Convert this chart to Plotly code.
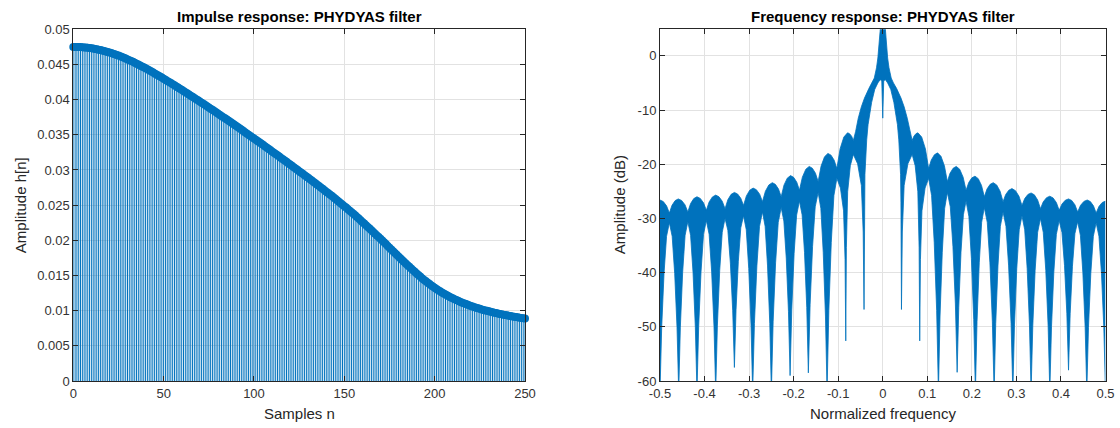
import plotly.graph_objects as go

# ---------------- Impulse response h[n], n = 0 .. 250 ----------------
samples = list(range(251))
h = [
    0.04750,
    0.04750, 0.04749, 0.04748, 0.04747, 0.04745, 0.04743, 0.04740, 0.04737, 0.04734, 0.04730,
    0.04726, 0.04721, 0.04716, 0.04711, 0.04705, 0.04699, 0.04692, 0.04685, 0.04678, 0.04670,
    0.04662, 0.04653, 0.04644, 0.04635, 0.04626, 0.04616, 0.04605, 0.04595, 0.04584, 0.04572,
    0.04561, 0.04549, 0.04537, 0.04524, 0.04512, 0.04499, 0.04486, 0.04472, 0.04459, 0.04445,
    0.04431, 0.04417, 0.04402, 0.04388, 0.04373, 0.04358, 0.04343, 0.04328, 0.04313, 0.04297,
    0.04282, 0.04266, 0.04251, 0.04235, 0.04219, 0.04203, 0.04187, 0.04171, 0.04155, 0.04139,
    0.04123, 0.04106, 0.04090, 0.04074, 0.04057, 0.04041, 0.04024, 0.04007, 0.03991, 0.03974,
    0.03957, 0.03940, 0.03923, 0.03906, 0.03889, 0.03872, 0.03855, 0.03838, 0.03821, 0.03803,
    0.03786, 0.03769, 0.03751, 0.03734, 0.03716, 0.03699, 0.03681, 0.03664, 0.03646, 0.03628,
    0.03610, 0.03592, 0.03574, 0.03556, 0.03538, 0.03520, 0.03502, 0.03484, 0.03466, 0.03448,
    0.03430, 0.03412, 0.03393, 0.03375, 0.03357, 0.03338, 0.03320, 0.03301, 0.03283, 0.03264,
    0.03246, 0.03227, 0.03209, 0.03190, 0.03172, 0.03153, 0.03134, 0.03116, 0.03097, 0.03078,
    0.03059, 0.03040, 0.03021, 0.03002, 0.02983, 0.02964, 0.02945, 0.02926, 0.02907, 0.02888,
    0.02869, 0.02849, 0.02830, 0.02811, 0.02791, 0.02771, 0.02752, 0.02732, 0.02712, 0.02692,
    0.02672, 0.02652, 0.02632, 0.02611, 0.02590, 0.02570, 0.02549, 0.02528, 0.02507, 0.02486,
    0.02465, 0.02443, 0.02421, 0.02399, 0.02377, 0.02355, 0.02332, 0.02309, 0.02286, 0.02262,
    0.02239, 0.02215, 0.02191, 0.02167, 0.02143, 0.02119, 0.02095, 0.02070, 0.02046, 0.02021,
    0.01996, 0.01971, 0.01946, 0.01921, 0.01896, 0.01871, 0.01846, 0.01821, 0.01796, 0.01771,
    0.01746, 0.01721, 0.01696, 0.01672, 0.01647, 0.01623, 0.01600, 0.01576, 0.01552, 0.01529,
    0.01506, 0.01484, 0.01462, 0.01441, 0.01420, 0.01400, 0.01381, 0.01362, 0.01343, 0.01325,
    0.01308, 0.01291, 0.01275, 0.01259, 0.01244, 0.01229, 0.01215, 0.01201, 0.01188, 0.01175,
    0.01163, 0.01151, 0.01140, 0.01128, 0.01117, 0.01107, 0.01097, 0.01087, 0.01077, 0.01068,
    0.01059, 0.01050, 0.01042, 0.01034, 0.01026, 0.01018, 0.01011, 0.01004, 0.00997, 0.00990,
    0.00984, 0.00978, 0.00972, 0.00966, 0.00960, 0.00954, 0.00949, 0.00943, 0.00938, 0.00933,
    0.00928, 0.00923, 0.00918, 0.00914, 0.00909, 0.00905, 0.00900, 0.00896, 0.00892, 0.00888,
]

# ---------------- Frequency response |H(f)| in dB ----------------
# Upper envelope: side-lobe maxima and the V-notches between neighbouring lobes
sidelobe_freq = [-0.500, -0.459, -0.417, -0.375, -0.333, -0.291, -0.248, -0.207, -0.165, -0.123, -0.079,
                 0.079, 0.123, 0.165, 0.207, 0.248, 0.290, 0.333, 0.375, 0.417, 0.459, 0.500]
sidelobe_db = [-26.6, -26.4, -26.0, -25.7, -25.2, -24.4, -23.4, -22.1, -20.4, -18.0, -14.2,
               -14.2, -17.9, -20.4, -22.2, -23.4, -24.5, -25.3, -25.9, -26.4, -26.6, -26.8]
notch_freq = [-0.479, -0.4375, -0.396, -0.354, -0.3125, -0.270, -0.228, -0.187, -0.145, -0.103, -0.066,
              0.066, 0.103, 0.145, 0.187, 0.228, 0.270, 0.3125, 0.354, 0.396, 0.4375, 0.479]
notch_db = [-29.0, -28.8, -28.5, -28.2, -27.6, -26.9, -26.0, -24.8, -23.2, -20.8, -15.6,
            -15.6, -20.8, -23.2, -24.8, -26.0, -26.9, -27.6, -28.2, -28.5, -28.8, -29.0]
# Lower envelope: level under each notch, and the nulls between them
window_db = [-30.8, -30.6, -30.4, -30.0, -29.5, -28.8, -28.0, -26.8, -25.2, -22.6, -18.2,
             -18.2, -22.6, -25.2, -26.8, -28.0, -28.8, -29.5, -30.0, -30.4, -30.6, -30.8]
null_freq = [-0.500, -0.458, -0.417, -0.375, -0.333, -0.292, -0.250, -0.208, -0.167, -0.125, -0.083, -0.042,
             0.042, 0.083, 0.125, 0.167, 0.208, 0.250, 0.292, 0.333, 0.375, 0.417, 0.458, 0.500]
null_db = [-62.0, -62.0, -62.0, -62.0, -57.5, -62.0, -62.0, -59.0, -58.5, -62.0, -52.6, -46.8,
           -46.8, -52.6, -62.0, -58.4, -62.0, -62.0, -62.0, -62.0, -62.0, -58.0, -62.0, -62.0]
# Main lobe around f = 0 (outer and inner edges)
main_top_freq = [-0.061, -0.055, -0.048, -0.041, -0.031, -0.024, -0.019, -0.014, -0.011, -0.006, -0.002, 0.0,
                 0.002, 0.006, 0.011, 0.014, 0.019, 0.024, 0.031, 0.041, 0.048, 0.055, 0.061]
main_top_db = [-14.0, -11.5, -9.4, -7.8, -6.0, -5.0, -4.1, -2.2, -0.4, 4.5, 9.0, 10.0,
               9.0, 4.5, -0.4, -2.2, -4.1, -5.0, -6.0, -7.8, -9.4, -11.5, -14.0]
main_bot_freq = [-0.0415, -0.0408, -0.0400, -0.036, -0.033, -0.025, -0.018, -0.011, -0.006, -0.0022, 0.0,
                 0.0022, 0.006, 0.011, 0.018, 0.025, 0.033, 0.036, 0.0400, 0.0408, 0.0415]
main_bot_db = [-36.0, -27.0, -21.9, -15.5, -12.7, -8.6, -6.2, -5.0, -4.4, -4.6, -11.5,
               -4.6, -4.4, -5.0, -6.2, -8.6, -12.7, -15.5, -21.9, -27.0, -36.0]

# ---------------- Tick labels ----------------
imp_xticks = [0, 50, 100, 150, 200, 250]
imp_yticks = [0, 0.005, 0.01, 0.015, 0.02, 0.025, 0.03, 0.035, 0.04, 0.045, 0.05]
imp_yticklabels = ["0", "0.005", "0.01", "0.015", "0.02", "0.025", "0.03", "0.035", "0.04", "0.045", "0.05"]
freq_xticks = [-0.5, -0.4, -0.3, -0.2, -0.1, 0, 0.1, 0.2, 0.3, 0.4, 0.5]
freq_xticklabels = ["-0.5", "-0.4", "-0.3", "-0.2", "-0.1", "0", "0.1", "0.2", "0.3", "0.4", "0.5"]
freq_yticks = [-60, -50, -40, -30, -20, -10, 0]
freq_yticklabels = ["-60", "-50", "-40", "-30", "-20", "-10", "0"]

# ---------------- Styling ----------------
BLUE = "#0072BD"
AXIS = "#262626"
GRID = "#e2e2e2"
FONT = "Liberation Sans, Arial, Helvetica, sans-serif"

# Outline shape of a lobe between its maximum and the adjacent notch:
# (fraction of the way from the maximum, fraction of the level drop)
ARCH_SHAPE = [(0.35, 0.12), (0.7, 0.45)]
# Outline of a null between the tip and the neighbouring window level:
# (fraction of the way from the tip, fraction of the depth still remaining)
NULL_SHAPE_OUTER = [(0.18, 0.62), (0.43, 0.30), (0.7, 0.08)]
NULL_SHAPE_INNER = [(0.08, 0.50), (0.25, 0.20), (0.6, 0.06)]


def arch_edge(peak, notch):
    (pf, pd), (nf, nd) = peak, notch
    return [(pf + t * (nf - pf), pd - u * (pd - nd)) for t, u in ARCH_SHAPE]


def null_edge(null, window):
    (sf, sd), (wf, wd) = null, window
    shape = NULL_SHAPE_INNER if abs(sf) < 0.1 else NULL_SHAPE_OUTER
    return [(sf + t * (wf - sf), wd - r * (wd - sd)) for t, r in shape]


def chain(points, edge):
    # points alternate between "anchor" extremes (kind 0) and the other kind (1)
    out = [points[0][1]]
    for (ka, a), (kb, b) in zip(points, points[1:]):
        out += edge(a, b) if ka == 0 else edge(b, a)[::-1]
        out.append(b)
    return out


peaks = list(zip(sidelobe_freq, sidelobe_db))
notches = list(zip(notch_freq, notch_db))
windows = list(zip(notch_freq, window_db))
nulls = list(zip(null_freq, null_db))

top_left = []
for p, n in zip(peaks[:11], notches[:11]):
    top_left += [(0, p), (1, n)]
top_right = []
for n, p in zip(notches[11:], peaks[11:]):
    top_right += [(1, n), (0, p)]
upper = chain(top_left, arch_edge) + list(zip(main_top_freq, main_top_db)) + chain(top_right, arch_edge)

bot_left = []
for i in range(12):
    bot_left.append((0, nulls[i]))
    if i < 11:
        bot_left.append((1, windows[i]))
bot_right = []
for i in range(12):
    bot_right.append((0, nulls[12 + i]))
    if i < 11:
        bot_right.append((1, windows[11 + i]))
lower = chain(bot_left, null_edge) + list(zip(main_bot_freq, main_bot_db)) + chain(bot_right, null_edge)

# Stem lines of the impulse response
stem_x, stem_y = [], []
for n, v in zip(samples, h):
    stem_x += [n, n, None]
    stem_y += [0, v, None]

fig = go.Figure()
fig.add_trace(go.Scatter(x=stem_x, y=stem_y, mode="lines",
                         line=dict(color=BLUE, width=1.0), xaxis="x", yaxis="y",
                         hoverinfo="skip"))
fig.add_trace(go.Scatter(x=samples, y=h, mode="markers",
                         marker=dict(size=8, color=BLUE, line=dict(width=0)),
                         cliponaxis=False, xaxis="x", yaxis="y"))
fig.add_trace(go.Scatter(x=[p[0] for p in lower], y=[p[1] for p in lower], mode="lines",
                         line=dict(color=BLUE, width=0.8), xaxis="x2", yaxis="y2"))
fig.add_trace(go.Scatter(x=[p[0] for p in upper], y=[p[1] for p in upper], mode="lines",
                         line=dict(color=BLUE, width=0.8), fill="tonexty", fillcolor=BLUE,
                         xaxis="x2", yaxis="y2"))

axis_style = dict(showline=True, linecolor=AXIS, linewidth=1, mirror="ticks",
                  ticks="inside", ticklen=5, tickwidth=1, tickcolor=AXIS,
                  showgrid=True, gridcolor=GRID, gridwidth=1, zeroline=False,
                  automargin=False,
                  tickfont=dict(family=FONT, size=13, color="#333333"))

Y_DOM = [47 / 428, 1 - 29.3 / 428]
L_DOM = [73.3 / 1120, 525 / 1120]
R_DOM = [660 / 1120, 1105.5 / 1120]

fig.update_layout(
    width=1120, height=428,
    margin=dict(l=0, r=0, t=0, b=0, pad=0),
    paper_bgcolor="white", plot_bgcolor="white",
    showlegend=False,
    font=dict(family=FONT, size=13, color=AXIS),
    xaxis=dict(domain=L_DOM, range=[0, 250], tickvals=imp_xticks, anchor="y", **axis_style),
    yaxis=dict(domain=Y_DOM, range=[0, 0.05], tickvals=imp_yticks, ticktext=imp_yticklabels,
               anchor="x", **axis_style),
    xaxis2=dict(domain=R_DOM, range=[-0.5, 0.5], tickvals=freq_xticks, ticktext=freq_xticklabels,
                anchor="y2", **axis_style),
    yaxis2=dict(domain=Y_DOM, range=[-60, 4.9], tickvals=freq_yticks, ticktext=freq_yticklabels,
                anchor="x2", **axis_style),
)

l_mid = (L_DOM[0] + L_DOM[1]) / 2
r_mid = (R_DOM[0] + R_DOM[1]) / 2
y_mid = (Y_DOM[0] + Y_DOM[1]) / 2
texts = [
    dict(text="<b>Impulse response: PHYDYAS filter</b>", x=l_mid, y=1 - 16 / 428, size=15, color="#000000"),
    dict(text="<b>Frequency response: PHYDYAS filter</b>", x=r_mid, y=1 - 16 / 428, size=15, color="#000000"),
    dict(text="Samples n", x=l_mid, y=1 - 413 / 428, size=15, color=AXIS),
    dict(text="Normalized frequency", x=r_mid, y=1 - 413 / 428, size=15, color=AXIS),
]
for t in texts:
    fig.add_annotation(text=t["text"], x=t["x"], y=t["y"], xref="paper", yref="paper",
                       xanchor="center", yanchor="middle", showarrow=False,
                       font=dict(family=FONT, size=t["size"], color=t["color"]))
for label, xpos in [("Amplitude h[n]", 20 / 1120), ("Amplitude (dB)", 619 / 1120)]:
    fig.add_annotation(text=label, x=xpos, y=y_mid, xref="paper", yref="paper",
                       xanchor="center", yanchor="middle", showarrow=False, textangle=-90,
                       font=dict(family=FONT, size=15, color=AXIS))

fig.write_html("out.html")
